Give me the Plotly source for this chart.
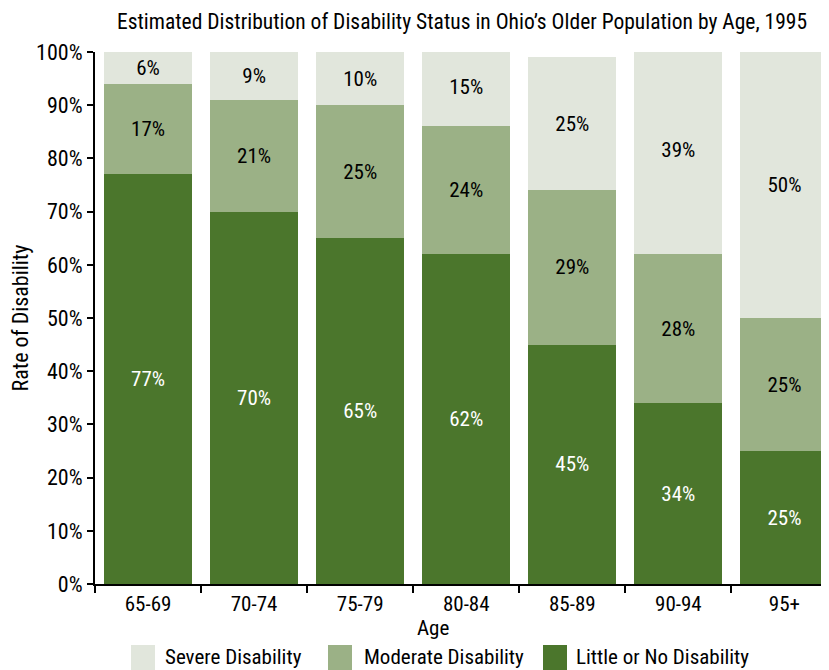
import plotly.graph_objects as go

ages = ["65-69", "70-74", "75-79", "80-84", "85-89", "90-94", "95+"]
little = [77, 70, 65, 62, 45, 34, 25]
moderate = [17, 21, 25, 24, 29, 28, 25]
severe = [6, 9, 10, 15, 25, 39, 50]
y_ticks = [0, 10, 20, 30, 40, 50, 60, 70, 80, 90, 100]

FONT = "Roboto Condensed, Liberation Sans Narrow, Roboto, sans-serif"
C_LITTLE = "#4b762c"
C_MOD = "#9bb186"
C_SEV = "#e1e6dc"

# page has an 8px body margin; the figure is sized to fill the rest of the window
W, H = 821, 662
L, R, T, B = 87, 0, 44, 86

fig = go.Figure()
for name, vals, col, tcol in [
    ("Little or No Disability", little, C_LITTLE, "white"),
    ("Moderate Disability", moderate, C_MOD, "black"),
    ("Severe Disability", severe, C_SEV, "black"),
]:
    fig.add_trace(go.Bar(
        x=ages, y=vals, name=name, marker=dict(color=col, line=dict(width=0)),
        text=[f"{v}%" for v in vals], textposition="inside",
        insidetextanchor="middle", textangle=0, constraintext="none",
        textfont=dict(family=FONT, size=21, color=tcol),
        showlegend=False,
    ))

fig.update_layout(
    width=W, height=H, barmode="stack", bargap=0.17,
    plot_bgcolor="white", paper_bgcolor="white",
    margin=dict(l=L, r=R, t=T, b=B),
    font=dict(family=FONT, size=21, color="black"),
    title=dict(text="Estimated Distribution of Disability Status in Ohio\u2019s Older Population by Age, 1995",
               x=0.5, xref="paper", y=0.979, yanchor="middle",
               font=dict(family=FONT, size=21.5, color="black")),
    xaxis=dict(range=[-0.5, 6.42], showline=True, linecolor="black", linewidth=2,
               ticks="outside", ticklen=7, tickwidth=2, tickcolor="black",
               tickson="boundaries", showgrid=False, zeroline=False,
               tickfont=dict(family=FONT, size=21)),
    yaxis=dict(range=[0, 100], tickvals=y_ticks, ticktext=[f"{v}%" for v in y_ticks],
               showline=True, linecolor="black", linewidth=2,
               ticks="outside", ticklen=6, tickwidth=2, tickcolor="black",
               showgrid=False, zeroline=False, tickfont=dict(family=FONT, size=22),
               title=dict(text="Rate of Disability", font=dict(family=FONT, size=22), standoff=6)),
)

plot_w = W - L - R
plot_h = H - T - B

# x-axis title (page coords: center x=433, y=628)
fig.add_annotation(text="Age", xref="paper", yref="paper", x=(433 - 95) / plot_w,
                   y=(584 - 628) / plot_h, showarrow=False,
                   font=dict(family=FONT, size=21), yanchor="middle")

# custom legend (page coords)
legend_items = [("Severe Disability", C_SEV, 131, 163),
                ("Moderate Disability", C_MOD, 328, 362),
                ("Little or No Disability", C_LITTLE, 543, 574)]
for label, col, sx, tx in legend_items:
    fig.add_shape(type="rect", xref="paper", yref="paper",
                  x0=(sx - 95) / plot_w, x1=(sx + 24 - 95) / plot_w,
                  y0=(584 - 670) / plot_h, y1=(584 - 645) / plot_h,
                  fillcolor=col, line=dict(width=0))
    fig.add_annotation(text=label, xref="paper", yref="paper", x=(tx - 95) / plot_w,
                       y=(584 - 657) / plot_h, xanchor="left", yanchor="middle",
                       showarrow=False, font=dict(family=FONT, size=21))

fig.write_html("out.html")
